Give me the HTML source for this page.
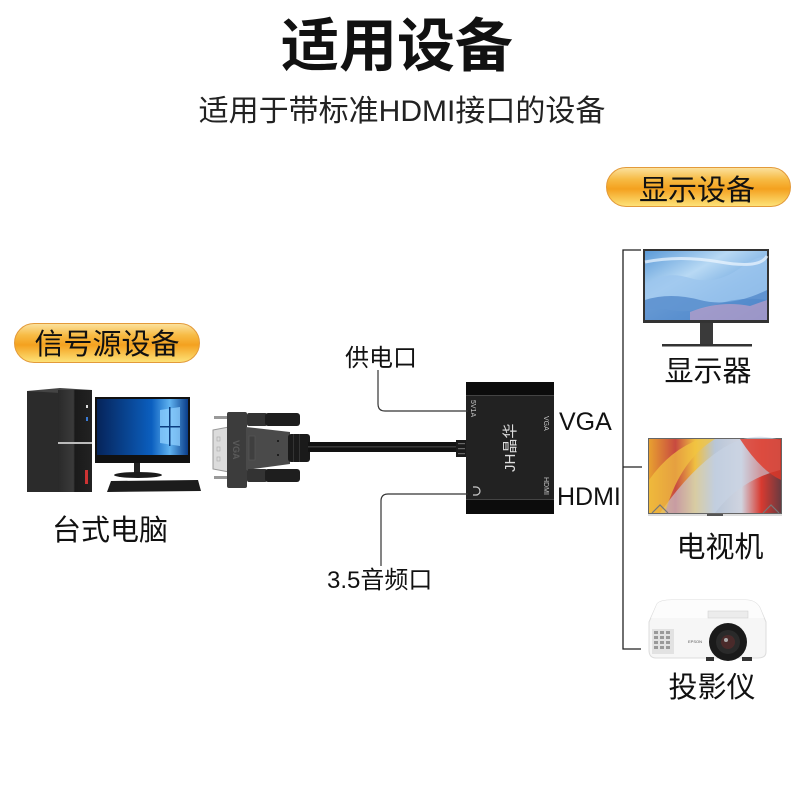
<!DOCTYPE html>
<html><head><meta charset="utf-8"><style>
html,body{margin:0;padding:0;background:#fff;}
svg{display:block;}
text{font-family:"Liberation Sans","Noto Sans CJK SC",sans-serif;}
.cjk{font-family:"Noto Sans CJK SC","Liberation Sans",sans-serif;}
</style></head><body>
<svg width="800" height="800" viewBox="0 0 800 800" xmlns="http://www.w3.org/2000/svg">
<defs>
<linearGradient id="pill" x1="0" y1="0" x2="0" y2="1">
<stop offset="0" stop-color="#fbe2a0"/><stop offset="0.3" stop-color="#f7bb45"/><stop offset="0.55" stop-color="#f4a11f"/><stop offset="1" stop-color="#fde47a"/>
</linearGradient>
<linearGradient id="blue1" x1="0" y1="0" x2="1" y2="1">
<stop offset="0" stop-color="#5b9ad8"/><stop offset="0.35" stop-color="#b8d9f4"/><stop offset="0.6" stop-color="#7fb2e4"/><stop offset="1" stop-color="#4a86cc"/>
</linearGradient>
<linearGradient id="win" x1="0" y1="0" x2="1" y2="0">
<stop offset="0" stop-color="#06245a"/><stop offset="0.6" stop-color="#0b5fbf"/><stop offset="0.8" stop-color="#5fb2f0"/><stop offset="1" stop-color="#0a3d8a"/>
</linearGradient>
<linearGradient id="tv" x1="0" y1="0" x2="1" y2="0">
<stop offset="0" stop-color="#e8a030"/><stop offset="0.2" stop-color="#c84a40"/><stop offset="0.35" stop-color="#f0c040"/><stop offset="0.5" stop-color="#b8c6d8"/><stop offset="0.7" stop-color="#d0d4e0"/><stop offset="0.85" stop-color="#d83a30"/><stop offset="1" stop-color="#6a3a40"/>
</linearGradient>
<linearGradient id="tower" x1="0" y1="0" x2="1" y2="0">
<stop offset="0" stop-color="#2a2a2a"/><stop offset="0.45" stop-color="#3a3a3a"/><stop offset="0.5" stop-color="#1a1a1a"/><stop offset="1" stop-color="#222"/>
</linearGradient>
</defs>

<!-- Title -->
<text x="397" y="66" text-anchor="middle" font-size="58" font-weight="700" class="cjk" fill="#111">适用设备</text>
<text x="402" y="121" text-anchor="middle" font-size="30" fill="#222">适用于带标准HDMI接口的设备</text>

<!-- Pills -->
<rect x="606.5" y="167.5" width="184" height="39" rx="19.5" fill="url(#pill)" stroke="#e39a3a"/>
<text x="697" y="200" text-anchor="middle" font-size="29" fill="#111">显示设备</text>
<rect x="14.5" y="323.5" width="185" height="39" rx="19.5" fill="url(#pill)" stroke="#e39a3a"/>
<text x="107" y="354" text-anchor="middle" font-size="29" fill="#111">信号源设备</text>

<!-- Computer -->
<rect x="27" y="391" width="33" height="101" fill="#2b2b2b"/>
<polygon points="27,391 60,388 92,390 60,393" fill="#444"/>
<rect x="58" y="390" width="34" height="102" fill="url(#tower)"/>
<rect x="58" y="442" width="34" height="2" fill="#bbb"/>
<rect x="85" y="470" width="3" height="14" fill="#c33"/>
<rect x="86" y="405" width="2" height="3" fill="#ddd"/>
<rect x="86" y="417" width="2" height="4" fill="#3a7bd5"/>
<rect x="95" y="397" width="95" height="66" fill="#111"/>
<rect x="97" y="399" width="91" height="56" fill="url(#win)"/>
<polygon points="160,410 180,407 180,446 160,443" fill="#8fd0ff" opacity="0.75"/>
<rect x="169" y="407" width="1.5" height="39" fill="#0b3d80"/>
<rect x="160" y="426" width="20" height="1.5" fill="#0b3d80"/>
<rect x="134" y="463" width="6" height="10" fill="#222"/>
<ellipse cx="138" cy="475" rx="24" ry="3" fill="#1a1a1a"/>
<polygon points="111,481 198,480 201,491 107,492" fill="#1c1c1c"/>
<text x="110" y="540" text-anchor="middle" font-size="29" fill="#111">台式电脑</text>

<!-- VGA connector -->
<rect x="214" y="416" width="14" height="3" fill="#999"/>
<rect x="214" y="476" width="14" height="3" fill="#999"/>
<polygon points="213,430 229,427 229,472 213,469" fill="#dcdcdc" stroke="#999"/>
<rect x="217" y="437" width="3" height="4" fill="none" stroke="#aaa" stroke-width="0.6"/>
<rect x="217" y="447" width="3" height="4" fill="none" stroke="#aaa" stroke-width="0.6"/>
<rect x="217" y="457" width="3" height="4" fill="none" stroke="#aaa" stroke-width="0.6"/>
<rect x="227" y="412" width="20" height="76" rx="2" fill="#3c3c3c"/>
<polygon points="246,427 290,432 290,464 246,470" fill="#4a4a4a"/>
<rect x="247" y="413" width="20" height="13" rx="2" fill="#333"/>
<rect x="265" y="413" width="35" height="13" rx="3" fill="#1e1e1e"/>
<rect x="247" y="469" width="20" height="13" rx="2" fill="#333"/>
<rect x="265" y="469" width="35" height="13" rx="3" fill="#1e1e1e"/>
<rect x="249" y="436" width="6" height="24" fill="#3f3f3f" stroke="#5a5a5a" stroke-width="0.6"/>
<circle cx="278" cy="441" r="1" fill="#111"/>
<circle cx="278" cy="455" r="1" fill="#111"/>
<text x="0" y="0" font-size="9" font-weight="700" fill="#5a5a5a" transform="translate(233,440) rotate(90)">VGA</text>
<rect x="288" y="434" width="22" height="28" rx="3" fill="#1a1a1a"/>
<rect x="293" y="434" width="1" height="28" fill="#333"/>
<rect x="299" y="434" width="1" height="28" fill="#333"/>
<!-- Cable -->
<rect x="308" y="442" width="150" height="10" fill="#121212"/>
<rect x="308" y="446" width="150" height="1.5" fill="#3a3a3a"/>
<rect x="456" y="440" width="11" height="17" fill="#1a1a1a"/>
<rect x="458" y="443" width="7" height="1.2" fill="#666"/>
<rect x="458" y="448" width="7" height="1.2" fill="#666"/>
<rect x="458" y="453" width="7" height="1.2" fill="#666"/>

<!-- Adapter box -->
<rect x="466" y="382" width="88" height="132" fill="#222"/>
<rect x="466" y="382" width="88" height="13" fill="#0c0c0c"/>
<rect x="466" y="395" width="88" height="1" fill="#444"/>
<rect x="466" y="500" width="88" height="14" fill="#0c0c0c"/>
<rect x="466" y="499" width="88" height="1" fill="#444"/>
<text font-size="7" fill="#ccc" transform="translate(471,400) rotate(90)">5V1A</text>
<text font-size="7" fill="#ccc" transform="translate(544,416) rotate(90)">VGA</text>
<text font-size="7" fill="#ccc" transform="translate(544,477) rotate(90)">HDMI</text>
<text font-size="15" fill="#ddd" font-family="Liberation Serif, Noto Serif CJK SC, serif" transform="translate(515,472) rotate(-90)">JH晶华</text>
<path d="M470 489 a4 4 0 0 1 8 0 M470 489 v3 M478 489 v3" fill="none" stroke="#ccc" stroke-width="1.2" transform="rotate(90 474 491)"/>

<!-- Callout lines -->
<path d="M378 370 V404 Q378 411 385 411 H468" fill="none" stroke="#333" stroke-width="1.2"/>
<path d="M381 566 V501 Q381 494 388 494 H468" fill="none" stroke="#333" stroke-width="1.2"/>
<text x="381" y="366" text-anchor="middle" font-size="24" fill="#111">供电口</text>
<text x="327" y="588" font-size="24" fill="#111">3.5音频口</text>
<text x="559" y="430" font-size="25" fill="#111">VGA</text>
<text x="557" y="505" font-size="25" fill="#111">HDMI</text>

<!-- Right bracket -->
<path d="M641 250 H623 V649 H641 M623 467 H642" fill="none" stroke="#222" stroke-width="1.3"/>

<!-- Display monitor -->
<rect x="643" y="249" width="126" height="74" fill="#333"/>
<rect x="645" y="251" width="122" height="69" fill="url(#blue1)"/>
<path d="M645 285 Q665 270 690 278 T740 268 T767 262 V300 Q740 296 715 305 T670 310 T645 312 Z" fill="#9cc6ee" opacity="0.8"/>
<path d="M645 300 Q670 292 700 300 T767 290 V320 H645 Z" fill="#4f86c8" opacity="0.75"/>
<path d="M690 312 Q720 300 750 306 L767 300 V320 H690 Z" fill="#e7a6c6" opacity="0.5"/>
<path d="M645 262 Q680 255 720 262 T767 256" fill="none" stroke="#eef7ff" stroke-width="3" opacity="0.7"/>
<rect x="700" y="323" width="13" height="22" fill="#3a3a3a"/>
<rect x="662" y="344" width="90" height="2.5" fill="#333"/>
<text x="708" y="381" text-anchor="middle" font-size="29" fill="#111">显示器</text>

<!-- TV -->
<rect x="648" y="438" width="134" height="76" fill="#666"/>
<rect x="649" y="439" width="132" height="74" fill="url(#tv)"/>
<path d="M660 513 Q690 470 720 450 T780 440 V470 Q740 480 715 513 Z" fill="#c8d4e4" opacity="0.6"/>
<path d="M649 480 Q670 450 700 439 H715 Q680 460 665 513 H649 Z" fill="#f2c440" opacity="0.7"/>
<path d="M740 439 H781 V480 Q760 470 740 439 Z" fill="#e03828" opacity="0.8"/>
<path d="M652 513 L660 505 L668 513" fill="none" stroke="#777" stroke-width="1.2"/>
<path d="M763 513 L771 505 L779 513" fill="none" stroke="#777" stroke-width="1.2"/>
<rect x="648" y="514" width="134" height="2" fill="#ddd"/>
<rect x="707" y="514" width="16" height="2" fill="#555"/>
<text x="720" y="557" text-anchor="middle" font-size="29" fill="#111">电视机</text>

<!-- Projector -->
<path d="M657 604 Q660 600 672 600 H745 Q756 600 760 608 L766 622 V652 Q766 658 758 658 H656 Q649 658 649 650 V622 Z" fill="#f6f6f6" stroke="#dcdcdc"/>
<path d="M657 604 Q660 600 672 600 H745 Q756 600 760 608 L764 618 H651 Z" fill="#fcfcfc"/>
<rect x="708" y="611" width="40" height="7" fill="#ececec" stroke="#ccc" stroke-width="0.5"/>
<g fill="#999">
<rect x="652" y="629" width="22" height="25" fill="#e2e2e2"/>
<rect x="654" y="631" width="4" height="3"/><rect x="660" y="631" width="4" height="3"/><rect x="666" y="631" width="4" height="3"/>
<rect x="654" y="636" width="4" height="3"/><rect x="660" y="636" width="4" height="3"/><rect x="666" y="636" width="4" height="3"/>
<rect x="654" y="641" width="4" height="3"/><rect x="660" y="641" width="4" height="3"/><rect x="666" y="641" width="4" height="3"/>
<rect x="654" y="646" width="4" height="3"/><rect x="660" y="646" width="4" height="3"/><rect x="666" y="646" width="4" height="3"/>
</g>
<text x="688" y="643" font-size="4" fill="#555">EPSON</text>
<circle cx="728" cy="642" r="19" fill="#1a1a1a"/>
<circle cx="728" cy="642" r="12" fill="#2a2a2a"/>
<circle cx="728" cy="642" r="7" fill="#4a2a2a"/>
<circle cx="726" cy="640" r="2" fill="#aaa"/>
<rect x="706" y="657" width="8" height="4" fill="#333"/>
<rect x="742" y="657" width="10" height="4" fill="#333"/>
<text x="712" y="697" text-anchor="middle" font-size="29" fill="#111">投影仪</text>
</svg>
</body></html>
